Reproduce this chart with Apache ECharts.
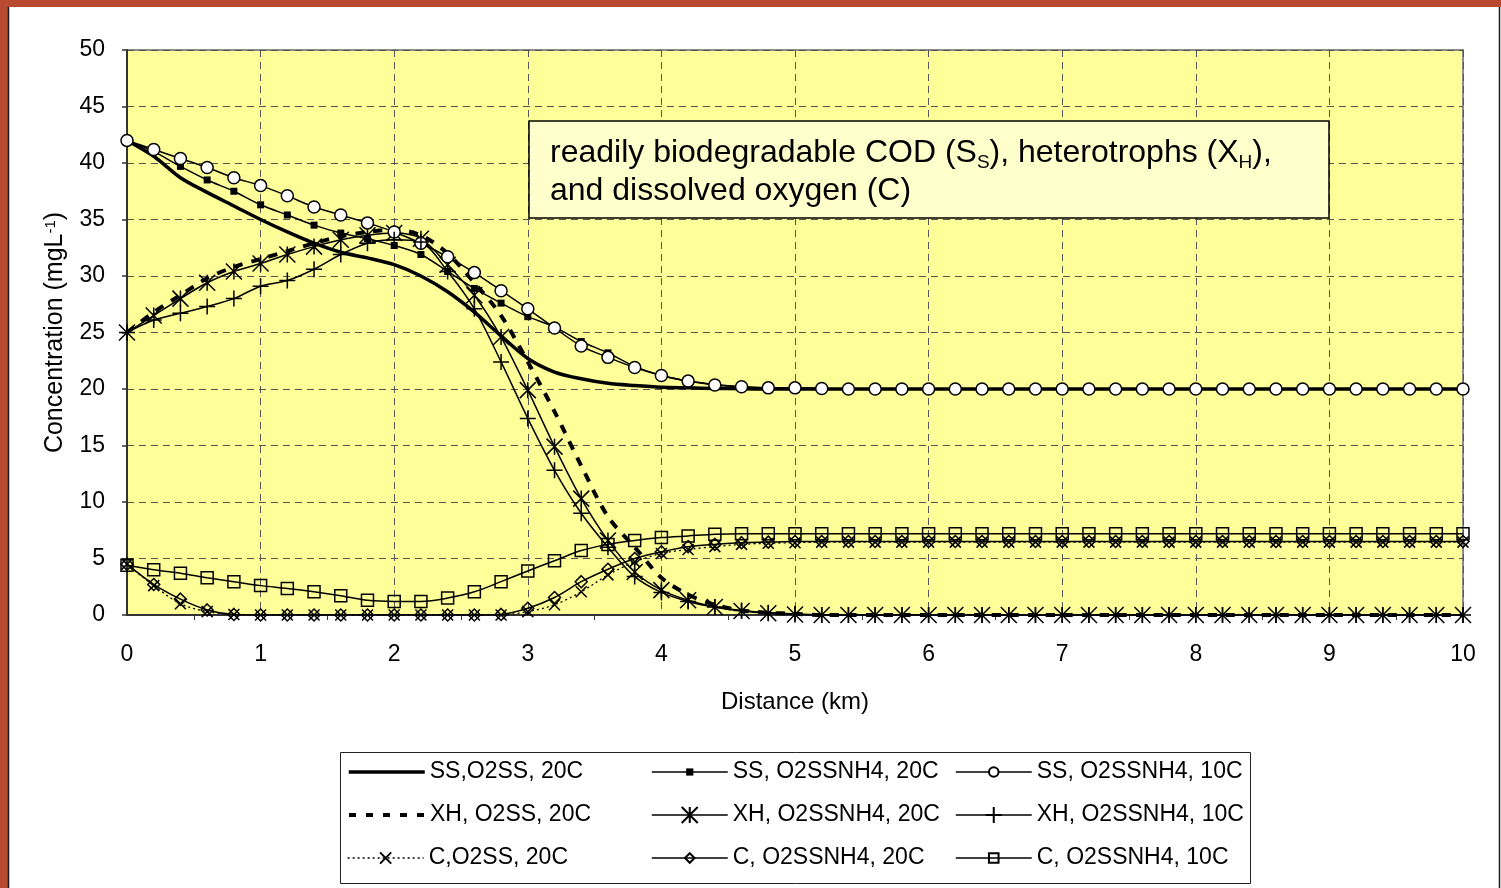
<!DOCTYPE html>
<html>
<head>
<meta charset="utf-8">
<title>Readily biodegradable COD, heterotrophs and dissolved oxygen</title>
<script src="https://cdn.jsdelivr.net/npm/echarts@6/dist/echarts.min.js"></script>
<style>
  html, body { margin: 0; padding: 0; background: #ffffff; }
  #chart { width: 1501px; height: 888px; }
</style>
</head>
<body>
<div id="chart"></div>
<script>
// Distance along the river (km), one sample every 0.2 km
const distance = [0,0.2,0.4,0.6,0.8,1,1.2,1.4,1.6,1.8,2,2.2,2.4,2.6,2.8,3,3.2,3.4,3.6,3.8,4,4.2,4.4,4.6,4.8,5,
  5.2,5.4,5.6,5.8,6,6.2,6.4,6.6,6.8,7,7.2,7.4,7.6,7.8,8,8.2,8.4,8.6,8.8,9,9.2,9.4,9.6,9.8,10];

// Readily biodegradable COD, S_S (mg/L)
const ssO2ss20 = [42.0,40.6,38.7,37.4,36.2,35.0,33.9,32.9,32.1,31.6,31.0,30.0,28.6,26.8,24.7,22.7,21.5,20.9,20.5,20.3,20.15,20.1,20.05,20.02,
  20,20,20,20,20,20,20,20,20,20,20,20,20,20,20,20,20,20,20,20,20,20,20,20,20,20,20];
const ssNh4_20 = [42.0,41.0,39.7,38.5,37.5,36.3,35.4,34.5,33.8,33.3,32.7,31.9,30.4,28.9,27.6,26.4,25.5,24.2,23.2,22.0,21.2,20.7,20.4,20.2,20.1,20.05,
  20,20,20,20,20,20,20,20,20,20,20,20,20,20,20,20,20,20,20,20,20,20,20,20,20];
const ssNh4_10 = [42.0,41.2,40.4,39.6,38.7,38.0,37.1,36.1,35.4,34.7,33.9,32.9,31.7,30.3,28.7,27.1,25.4,23.8,22.8,21.9,21.2,20.7,20.35,20.2,20.1,20.1,20.05,
  20,20,20,20,20,20,20,20,20,20,20,20,20,20,20,20,20,20,20,20,20,20,20,20];

// Heterotrophs, X_H (mg/L)
const xhO2ss20 = [25.0,26.8,28.3,29.8,30.8,31.5,32.2,32.9,33.5,33.9,34.1,33.6,32.0,29.4,26.5,22.4,18.0,13.2,8.7,6.0,3.3,1.8,0.9,0.4,0.2,0.1,
  0,0,0,0,0,0,0,0,0,0,0,0,0,0,0,0,0,0,0,0,0,0,0,0,0];
const xhNh4_20 = [25.0,26.5,28.0,29.4,30.4,31.1,31.9,32.6,33.2,33.6,33.8,33.3,31.0,28.3,24.6,19.9,14.9,10.3,6.6,3.8,2.2,1.3,0.7,0.35,0.15,0.05,
  0,0,0,0,0,0,0,0,0,0,0,0,0,0,0,0,0,0,0,0,0,0,0,0,0];
const xhNh4_10 = [25.0,26.1,26.7,27.3,28.0,29.1,29.6,30.6,31.9,32.9,33.2,33.0,30.4,27.1,22.4,17.4,12.8,9.0,6.0,3.4,2.0,1.2,0.7,0.4,0.2,0.1,
  0,0,0,0,0,0,0,0,0,0,0,0,0,0,0,0,0,0,0,0,0,0,0,0,0];

// Dissolved oxygen, C (mg/L)
const cO2ss20 = [4.5,2.6,1.0,0.3,0.05,0,0,0,0,0,0,0,0,0,0,0.3,0.9,2.05,3.55,4.7,5.45,5.8,6.05,6.25,6.35,6.4,
  6.45,6.45,6.45,6.45,6.45,6.45,6.45,6.45,6.45,6.45,6.45,6.45,6.45,6.45,6.45,6.45,6.45,6.45,6.45,6.45,6.45,6.45,6.45,6.45,6.45];
const cNh4_20 = [4.5,2.7,1.4,0.45,0.05,0,0,0,0,0,0,0,0,0,0.05,0.6,1.55,2.95,4.05,5.0,5.6,6.05,6.25,6.4,6.45,6.5,
  6.5,6.5,6.5,6.5,6.5,6.5,6.5,6.5,6.5,6.5,6.5,6.5,6.5,6.5,6.5,6.5,6.5,6.5,6.5,6.5,6.5,6.5,6.5,6.5,6.5];
const cNh4_10 = [4.4,4.0,3.7,3.3,2.95,2.6,2.35,2.05,1.7,1.3,1.2,1.2,1.5,2.05,2.95,3.9,4.8,5.7,6.25,6.6,6.85,7.0,7.15,7.2,7.2,7.2,
  7.2,7.2,7.2,7.2,7.2,7.2,7.2,7.2,7.2,7.2,7.2,7.2,7.2,7.2,7.2,7.2,7.2,7.2,7.2,7.2,7.2,7.2,7.2,7.2,7.2];

// Axis ticks
const xTicks = [0,1,2,3,4,5,6,7,8,9,10];
const yTicks = [0,5,10,15,20,25,30,35,40,45,50];

// Series names, in legend order (row by row)
const names = [
  'SS,O2SS, 20C', 'SS, O2SSNH4, 20C', 'SS, O2SSNH4, 10C',
  'XH, O2SS, 20C', 'XH, O2SSNH4, 20C', 'XH, O2SSNH4, 10C',
  'C,O2SS, 20C', 'C, O2SSNH4, 20C', 'C, O2SSNH4, 10C'
];

const FONT = '"Liberation Sans", Arial, sans-serif';
const INK = '#000000';

// Marker outlines
const SYM = {
  box: 'path://M0,0L10,0L10,10L0,10Z',
  diamond: 'path://M5,0L10,5L5,10L0,5Z',
  star: 'path://M0,0L10,10M10,0L0,10M5,0L5,10',
  plus: 'path://M5,0L5,10M0,5L10,5',
  cross: 'path://M0,0L10,10M10,0L0,10'
};

// Line styles per series (legend order)
const lineStyles = [
  { color: INK, width: 3.5, type: 'solid' },
  { color: INK, width: 1.5, type: 'solid' },
  { color: INK, width: 1.5, type: 'solid' },
  { color: INK, width: 4, type: [9, 9] },
  { color: INK, width: 1.5, type: 'solid' },
  { color: INK, width: 1.5, type: 'solid' },
  { color: INK, width: 1.3, type: [2, 3] },
  { color: INK, width: 1.5, type: 'solid' },
  { color: INK, width: 1.5, type: 'solid' }
];

function pairs(values) {
  return distance.map((d, i) => [d, values[i]]);
}

function lineSeries(idx, values, opts) {
  return Object.assign({
    type: 'line',
    name: names[idx],
    data: pairs(values),
    smooth: 0.3,
    showAllSymbol: true,
    silent: true,
    animation: false,
    lineStyle: lineStyles[idx],
    itemStyle: { color: 'rgba(0,0,0,0)', borderColor: INK, borderWidth: 1.5 }
  }, opts);
}

const series = [
  lineSeries(0, ssO2ss20, { symbol: 'none', itemStyle: { color: INK }, z: 3 }),
  lineSeries(3, xhO2ss20, { symbol: 'none', itemStyle: { color: INK }, z: 3 }),
  lineSeries(6, cO2ss20, { symbol: SYM.cross, symbolSize: 11, z: 4 }),
  lineSeries(1, ssNh4_20, { symbol: SYM.box, symbolSize: 7, itemStyle: { color: INK, borderColor: INK, borderWidth: 0 }, z: 5 }),
  lineSeries(4, xhNh4_20, { symbol: SYM.star, symbolSize: 16, z: 5 }),
  lineSeries(7, cNh4_20, { symbol: SYM.diamond, symbolSize: 12, z: 5 }),
  lineSeries(2, ssNh4_10, { symbol: 'circle', symbolSize: 12, itemStyle: { color: '#ffffff', borderColor: INK, borderWidth: 1.5 }, z: 6 }),
  lineSeries(5, xhNh4_10, { symbol: SYM.plus, symbolSize: 16, z: 6 }),
  lineSeries(8, cNh4_10, { symbol: SYM.box, symbolSize: 12, z: 6 })
];

// One legend per entry so the three columns line up
const legendCols = [347, 651, 955];
const legendRowsY = [772, 815, 858];
const legendIconH = [4, 9, 12, 4, 20, 20, 14, 12, 12];
const legends = names.map((n, i) => {
  const col = i % 3, row = Math.floor(i / 3);
  const hideSymbol = (i === 0 || i === 3);
  const item = { name: n, lineStyle: Object.assign({}, lineStyles[i]) };
  if (i === 3) item.lineStyle.type = [7, 10];
  if (hideSymbol) item.itemStyle = { color: 'rgba(0,0,0,0)', borderColor: 'rgba(0,0,0,0)', borderWidth: 0 };
  return {
    data: [item],
    left: legendCols[col],
    top: legendRowsY[row] - 13,
    padding: 0,
    itemWidth: 76,
    itemHeight: legendIconH[i],
    selectedMode: false,
    textStyle: { fontFamily: FONT, fontSize: 23, color: INK, lineHeight: 26 }
  };
});

const chart = echarts.init(document.getElementById('chart'), null, { renderer: 'canvas' });

chart.setOption({
  backgroundColor: '#ffffff',
  animation: false,
  grid: {
    left: 127, top: 50, width: 1336, height: 565,
    show: true, backgroundColor: '#FFFF99', borderColor: '#8c8c8c', borderWidth: 2
  },
  xAxis: {
    type: 'value', min: 0, max: 10, interval: 1,
    name: 'Distance (km)', nameLocation: 'middle', nameGap: 75,
    nameTextStyle: { fontFamily: FONT, fontSize: 24, color: INK },
    axisLine: { show: true, lineStyle: { color: '#333333', width: 2 } },
    axisTick: { show: false },
    minorTick: { show: true, splitNumber: 2, length: 5, lineStyle: { color: '#333333', width: 1 } },
    axisLabel: { fontFamily: FONT, fontSize: 23, color: INK, margin: 28,
      formatter: v => (xTicks.indexOf(v) >= 0 ? String(v) : '') },
    splitLine: { show: true, lineStyle: { color: '#555555', width: 1, type: [7, 5] } }
  },
  yAxis: {
    type: 'value', min: 0, max: 50, interval: 5,
    name: 'Concentration (mgL{sup|-1})', nameLocation: 'middle', nameGap: 59,
    nameTextStyle: { fontFamily: FONT, fontSize: 25, color: INK,
      rich: { sup: { fontFamily: FONT, fontSize: 15, color: INK, verticalAlign: 'top', padding: [0, 0, 10, 0] } } },
    axisLine: { show: true, lineStyle: { color: '#333333', width: 2 } },
    axisTick: { show: true, inside: false, length: 5, lineStyle: { color: '#333333', width: 1.5 } },
    axisLabel: { fontFamily: FONT, fontSize: 23, color: INK, margin: 22,
      formatter: v => (yTicks.indexOf(v) >= 0 ? String(v) : '') },
    splitLine: { show: true, lineStyle: { color: '#555555', width: 1, type: [7, 5] } }
  },
  legend: legends,
  graphic: [
    // page frame
    { type: 'rect', silent: true, z: 100, shape: { x: 0, y: 0, width: 1501, height: 7 }, style: { fill: '#B84A31' } },
    { type: 'rect', silent: true, z: 100, shape: { x: 0, y: 0, width: 8, height: 888 }, style: { fill: '#B84A31' } },
    { type: 'line', silent: true, z: 100, shape: { x1: 8.5, y1: 7, x2: 8.5, y2: 888 }, style: { stroke: '#1a1a1a', lineWidth: 1.5 } },
    { type: 'line', silent: true, z: 100, shape: { x1: 1499.5, y1: 7, x2: 1499.5, y2: 888 }, style: { stroke: '#1a1a1a', lineWidth: 1.5 } },
    // legend frame
    { type: 'rect', silent: true, z: -1, shape: { x: 340.5, y: 752.5, width: 910, height: 131 },
      style: { fill: '#ffffff', stroke: '#222222', lineWidth: 1 } },
    // caption box
    { type: 'rect', silent: true, z: 50, shape: { x: 529, y: 121, width: 800, height: 97 },
      style: { fill: '#FFFFCC', stroke: '#000000', lineWidth: 1.5 } },
    { type: 'text', silent: true, z: 51, left: 550, top: 137,
      style: {
        text: '{n|readily biodegradable COD (S}{sub|S}{n|), heterotrophs (X}{sub|H}{n|),}\n{n|and dissolved oxygen (C)}',
        rich: {
          n: { fontFamily: FONT, fontSize: 32, fill: INK, lineHeight: 38, verticalAlign: 'middle' },
          sub: { fontFamily: FONT, fontSize: 19, fill: INK, lineHeight: 16, verticalAlign: 'bottom' }
        }
      }
    }
  ],
  series: series
});
</script>
</body>
</html>
